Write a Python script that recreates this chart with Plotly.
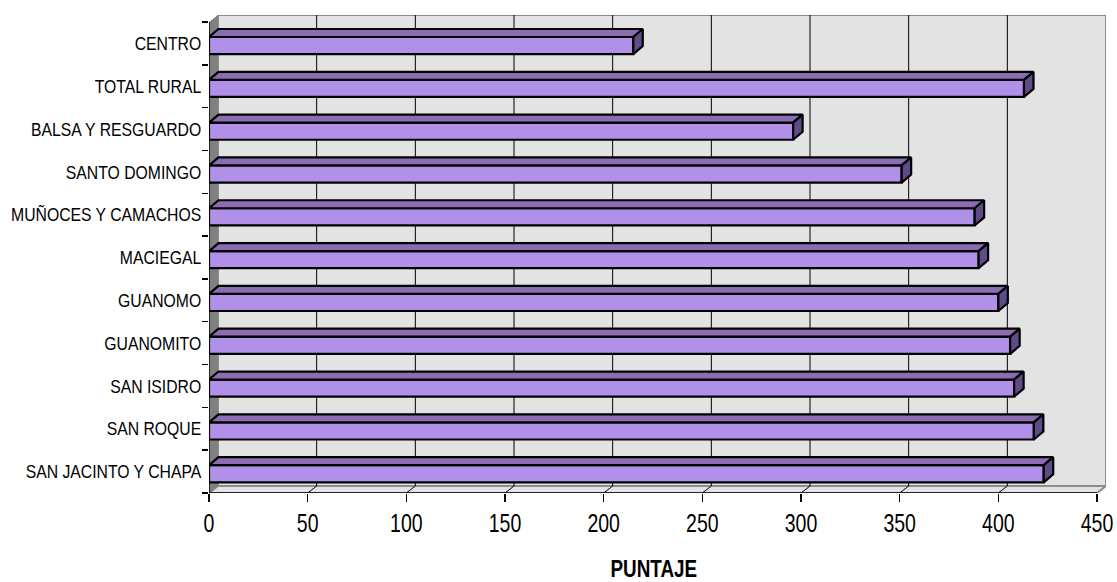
import plotly.graph_objects as go

# ---- data (bottom to top) ----
categories = ["SAN JACINTO Y CHAPA", "SAN ROQUE", "SAN ISIDRO", "GUANOMITO", "GUANOMO",
              "MACIEGAL", "MUÑOCES Y CAMACHOS", "SANTO DOMINGO", "BALSA Y RESGUARDO",
              "TOTAL RURAL", "CENTRO"]
values = [423, 418, 408, 406, 400, 390, 388, 351, 296, 413, 215]
x_ticks = [0, 50, 100, 150, 200, 250, 300, 350, 400, 450]
x_title = "PUNTAJE"

# ---- layout geometry ----
W, H = 1117, 582
front_left, front_right = 209, 1097      # px of 0 and 450
front_top, front_bottom = 22, 493        # px of category edges
wall_dx_px, wall_dy_px = 9, 7
bar_dx_px, bar_dy_px = 9.5, 8
xmax_front = 450
n = len(categories)
px_x = (front_right - front_left) / xmax_front
px_y = (front_bottom - front_top) / n
wdx = wall_dx_px / px_x
wdy = wall_dy_px / px_y
bdx = bar_dx_px / px_x
bdy = bar_dy_px / px_y
x_range = [0, xmax_front + wdx]
y_lo, y_hi = -0.5, n - 0.5
y_range = [y_lo, y_hi + wdy]
plot_w = front_right + wall_dx_px - front_left
plot_h = front_bottom - front_top + wall_dy_px

pos = list(range(n))
bar_w = 0.4
bar_off = -0.25

FONT = "Liberation Sans, Arial, sans-serif"
front_col = "#B190EA"
top_col = "#8A6DB3"
cap_col = "#5F4B86"

fig = go.Figure()

# front faces
fig.add_trace(go.Bar(
    y=pos, x=values, orientation="h", width=bar_w, offset=bar_off,
    marker=dict(color=front_col, line=dict(color="black", width=2.2)),
    hoverinfo="skip", showlegend=False))

# top faces and end caps
tx, ty, cx, cy = [], [], [], []
for p, v in zip(pos, values):
    yb = p + bar_off
    yt = yb + bar_w
    tx += [0, v, v + bdx, bdx, 0, None]
    ty += [yt, yt, yt + bdy, yt + bdy, yt, None]
    cx += [v, v + bdx, v + bdx, v, v, None]
    cy += [yb, yb + bdy, yt + bdy, yt, yb, None]
fig.add_trace(go.Scatter(x=tx, y=ty, fill="toself", fillcolor=top_col, mode="lines",
                         line=dict(color="black", width=2.2), hoverinfo="skip",
                         showlegend=False))
fig.add_trace(go.Scatter(x=cx, y=cy, fill="toself", fillcolor=cap_col, mode="lines",
                         line=dict(color="black", width=2.2), hoverinfo="skip",
                         showlegend=False))

shapes = []
# back wall
shapes.append(dict(type="rect", xref="x", yref="y", x0=wdx, x1=xmax_front + wdx,
                   y0=y_lo + wdy, y1=y_hi + wdy, fillcolor="#E3E3E3",
                   line=dict(color="#8C8C8C", width=2), layer="below"))
# floor
shapes.append(dict(type="path", xref="x", yref="y",
                   path=f"M 0 {y_lo} L {xmax_front} {y_lo} L {xmax_front + wdx} {y_lo + wdy} L {wdx} {y_lo + wdy} Z",
                   fillcolor="#E3E3E3", line=dict(color="#8C8C8C", width=2), layer="below"))
# left wall
shapes.append(dict(type="path", xref="x", yref="y",
                   path=f"M 0 {y_lo} L {wdx} {y_lo + wdy} L {wdx} {y_hi + wdy} L 0 {y_hi} Z",
                   fillcolor="#808080", line=dict(width=0), layer="below"))
# gridlines on back wall and floor
for t in x_ticks[1:-1]:
    shapes.append(dict(type="line", xref="x", yref="y", x0=t + wdx, x1=t + wdx,
                       y0=y_lo + wdy, y1=y_hi + wdy, line=dict(color="black", width=1),
                       layer="below"))
    shapes.append(dict(type="line", xref="x", yref="y", x0=t, x1=t + wdx,
                       y0=y_lo, y1=y_lo + wdy, line=dict(color="black", width=1),
                       layer="below"))
# front axis lines
shapes.append(dict(type="line", xref="x", yref="y", x0=0, x1=xmax_front, y0=y_lo, y1=y_lo,
                   line=dict(color="black", width=1.5)))
shapes.append(dict(type="line", xref="x", yref="y", x0=0, x1=0, y0=y_lo, y1=y_hi,
                   line=dict(color="black", width=1.5)))

fig.update_layout(
    width=W, height=H,
    margin=dict(l=front_left, r=W - (front_right + wall_dx_px), t=front_top - wall_dy_px,
                b=H - front_bottom, autoexpand=False),
    paper_bgcolor="white", plot_bgcolor="white",
    showlegend=False, hovermode=False, bargap=0,
    shapes=shapes,
    xaxis=dict(range=x_range, tickmode="array", tickvals=x_ticks, automargin=False,
               ticktext=[str(t) for t in x_ticks], ticks="outside", ticklen=8,
               ticklabeloverflow="allow",
               tickcolor="black", tickwidth=1.5, showgrid=False, zeroline=False,
               showline=False, tickfont=dict(family=FONT, size=25, color="black")),
    yaxis=dict(range=y_range, tickmode="array", tickvals=pos, ticktext=categories,
               automargin=False, ticklabeloverflow="allow",
               ticks="outside", ticklen=3, tickcolor="rgba(0,0,0,0)",
               showgrid=False, zeroline=False, showline=False,
               tickfont=dict(family=FONT, size=19, color="black"),
               minor=dict(tickmode="array", tickvals=[p - 0.5 for p in pos] + [y_hi],
                          ticks="outside", ticklen=6, tickcolor="black", tickwidth=1.5,
                          showgrid=False)),
    annotations=[dict(text=f"<b>{x_title}</b>", xref="paper", yref="paper",
                      x=(654 - front_left) / plot_w,
                      y=-(569 - front_bottom) / plot_h,
                      xanchor="center", yanchor="middle", showarrow=False,
                      font=dict(family=FONT, size=23, color="black"))],
)

# Remove the page's default body margin and horizontally condense the text
# (the reference uses a squeezed Arial look)
squeeze_js = """
document.body.style.margin = '0';
document.body.style.overflow = 'hidden';
var gd = document.getElementById('{plot_id}');
function squeeze(){
  var specs = [['.ytick text', 0.83, 'end'], ['.xtick text', 0.78, 'middle'],
               ['.annotation-text', 0.82, 'middle']];
  specs.forEach(function(s){
    gd.querySelectorAll(s[0]).forEach(function(t){
      if (t.getAttribute('data-sq')) return;
      var b = t.getBBox();
      var ax = (s[2] === 'end') ? b.x + b.width : b.x + b.width / 2;
      var tr = t.getAttribute('transform') || '';
      t.setAttribute('transform', tr + ' translate(' + ax + ',0) scale(' + s[1] + ',1) translate(' + (-ax) + ',0)');
      t.setAttribute('data-sq', '1');
    });
  });
}
squeeze();
gd.on('plotly_afterplot', squeeze);
"""

fig.write_html("out.html", post_script=squeeze_js,
               config={"displayModeBar": False, "staticPlot": True})
